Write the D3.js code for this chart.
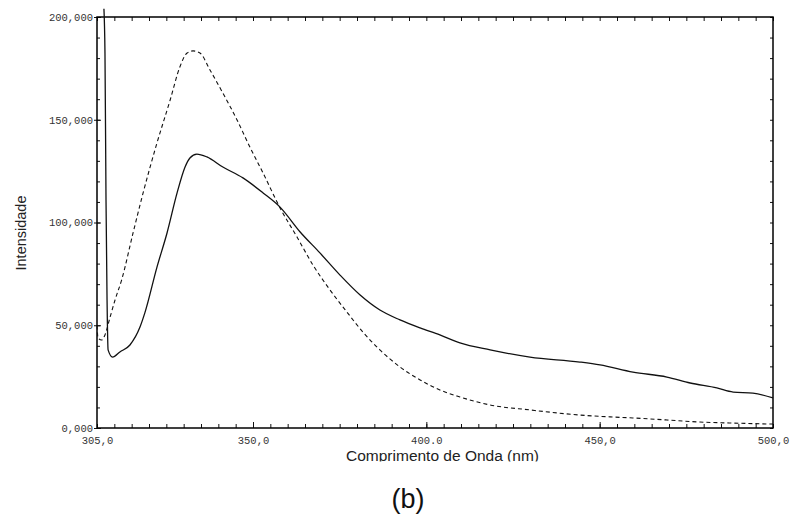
<!DOCTYPE html>
<html>
<head>
<meta charset="utf-8">
<script src="https://cdn.jsdelivr.net/npm/d3@7"></script>
<style>
  html, body { margin: 0; padding: 0; background: #fff; }
  svg { display: block; }
</style>
</head>
<body>
<svg id="chart" width="794" height="519"></svg>
<script>
// ---- data ----
const solidNm = [307.0, 307.3, 307.6, 307.9, 308.2, 309.5, 311.6, 314.5, 317.4, 318.8, 322.3, 325.2, 328.1, 330.4, 331.8, 333.8, 336.7, 341.3, 347.1, 352.9, 357.8, 363.6, 369.3, 375.1, 380.9, 386.6, 392.4, 398.2, 403.9, 409.7, 418.4, 429.9, 444.3, 450.1, 459.6, 469.4, 476.1, 483.8, 488.5, 494.2, 500.0];
const solidVal = [204000, 182500, 111000, 62300, 38000, 34500, 37000, 40400, 49100, 56000, 78300, 94900, 114400, 127000, 131400, 133300, 131900, 127000, 121700, 114400, 107500, 95400, 85200, 74400, 64700, 57400, 52600, 48700, 45300, 41400, 38000, 34500, 32100, 30700, 27200, 24800, 21900, 19500, 17500, 17000, 14600];

const dashedNm = [305.0, 305.3, 306.3, 307.3, 308.7, 310.2, 312.1, 315.4, 318.3, 322.3, 326.1, 328.9, 331.0, 332.7, 334.7, 337.6, 341.3, 345.4, 349.1, 352.9, 357.8, 362.7, 367.3, 372.2, 377.1, 381.7, 386.6, 392.4, 398.2, 403.9, 409.7, 418.4, 429.9, 444.3, 453.0, 459.6, 469.4, 478.9, 488.5, 500.0];
const dashedVal = [50000, 43800, 42800, 45300, 53500, 62300, 72000, 94900, 114400, 138700, 159600, 175700, 182500, 183500, 182500, 174200, 163000, 149900, 136700, 124100, 107100, 92900, 79300, 67200, 56400, 46700, 38000, 29700, 23400, 18500, 15100, 11200, 8800, 6300, 5400, 4900, 3900, 2900, 2400, 1900];

const xTickValues = [305, 350, 400, 450, 500];
const xTickLabels = ["305,0", "350,0", "400.0", "450,0", "500,0"];
const yTickValues = [0, 50000, 100000, 150000, 200000];
const yTickLabels = ["0,000", "50,000", "100,000", "150,000", "200,000"];
const xTitle = "Comprimento de Onda (nm)";
const yTitle = "Intensidade";
const caption = "(b)";

// ---- layout ----
const L = 97, R = 773, T = 17, B = 428;
const svg = d3.select("#chart");

const x = d3.scaleLinear().domain([305, 500]).range([L, R]);
const y = d3.scaleLinear().domain([0, 200000]).range([B, T]);

const minorX = d3.range(305, 500.01, 5);
const minorY = d3.range(0, 200001, 10000);

function noLabel(ax) { return ax.tickFormat("").tickSizeOuter(0); }

const gAx = svg.append("g").attr("stroke-width", 1);

gAx.append("g").attr("transform", `translate(0,${B})`)
  .call(noLabel(d3.axisBottom(x).tickValues(minorX).tickSizeInner(-4)));
gAx.append("g").attr("transform", `translate(0,${B})`)
  .call(noLabel(d3.axisBottom(x).tickValues([350, 400, 450]).tickSizeInner(-6)));
gAx.append("g").attr("transform", `translate(0,${T})`)
  .call(noLabel(d3.axisTop(x).tickValues(minorX).tickSizeInner(-4)));
gAx.append("g").attr("transform", `translate(${L},0)`)
  .call(noLabel(d3.axisLeft(y).tickValues(minorY).tickSizeInner(-3)));
gAx.append("g").attr("transform", `translate(${L},0)`)
  .call(noLabel(d3.axisLeft(y).tickValues(yTickValues).tickSizeInner(3)));
gAx.append("g").attr("transform", `translate(${L},0)`)
  .call(noLabel(d3.axisLeft(y).tickValues(yTickValues).tickSizeInner(-4)));
gAx.append("g").attr("transform", `translate(${R},0)`)
  .call(noLabel(d3.axisRight(y).tickValues(minorY).tickSizeInner(-3)));

gAx.selectAll(".domain").remove();
gAx.selectAll(".tick line").attr("stroke", "#111").attr("stroke-width", 1);

// frame
svg.append("rect")
  .attr("x", L).attr("y", T).attr("width", R - L).attr("height", B - T)
  .attr("fill", "none").attr("stroke", "#000").attr("stroke-width", 1.5);

// tick labels
const labFont = "'Liberation Mono', 'DejaVu Sans Mono', monospace";
const xl = svg.append("g").attr("transform", `translate(0,${B})`)
  .call(d3.axisBottom(x).tickValues(xTickValues).tickSize(0).tickPadding(9)
        .tickFormat((d, i) => xTickLabels[i]));
xl.select(".domain").remove();
xl.selectAll("text").attr("font-family", labFont).attr("font-size", 10.5).attr("fill", "#333");

const yl = svg.append("g").attr("transform", `translate(${L},0)`)
  .call(d3.axisLeft(y).tickValues(yTickValues).tickSize(0).tickPadding(4)
        .tickFormat((d, i) => yTickLabels[i]));
yl.select(".domain").remove();
yl.selectAll("text").attr("font-family", labFont).attr("font-size", 10.5).attr("fill", "#333");

// lines
const line = d3.line().curve(d3.curveMonotoneX).x(d => x(d[0])).y(d => y(d[1]));
const solidData = solidNm.map((n, i) => [n, solidVal[i]]);
const dashedData = dashedNm.map((n, i) => [n, dashedVal[i]]);

svg.append("path").datum(dashedData).attr("d", line)
  .attr("fill", "none").attr("stroke", "#111").attr("stroke-width", 1.1)
  .attr("stroke-dasharray", "4,3");
svg.append("path").datum(solidData).attr("d", line)
  .attr("fill", "none").attr("stroke", "#111").attr("stroke-width", 1.3);

// titles
const sans = "'Liberation Sans', Arial, sans-serif";
svg.append("defs").append("clipPath").attr("id", "titleClip")
  .append("rect").attr("x", 0).attr("y", 447).attr("width", 794).attr("height", 14.5);
svg.append("text")
  .attr("x", 442.5).attr("y", 460.5).attr("text-anchor", "middle")
  .attr("clip-path", "url(#titleClip)")
  .attr("font-family", sans).attr("font-size", 15.5).attr("fill", "#222")
  .text(xTitle);

svg.append("text")
  .attr("transform", "translate(25.5,233) rotate(-90)")
  .attr("text-anchor", "middle")
  .attr("font-family", sans).attr("font-size", 14.5).attr("fill", "#222")
  .text(yTitle);

svg.append("text")
  .attr("x", 408).attr("y", 508).attr("text-anchor", "middle")
  .attr("font-family", sans).attr("font-size", 27).attr("fill", "#111")
  .text(caption);
</script>
</body>
</html>
